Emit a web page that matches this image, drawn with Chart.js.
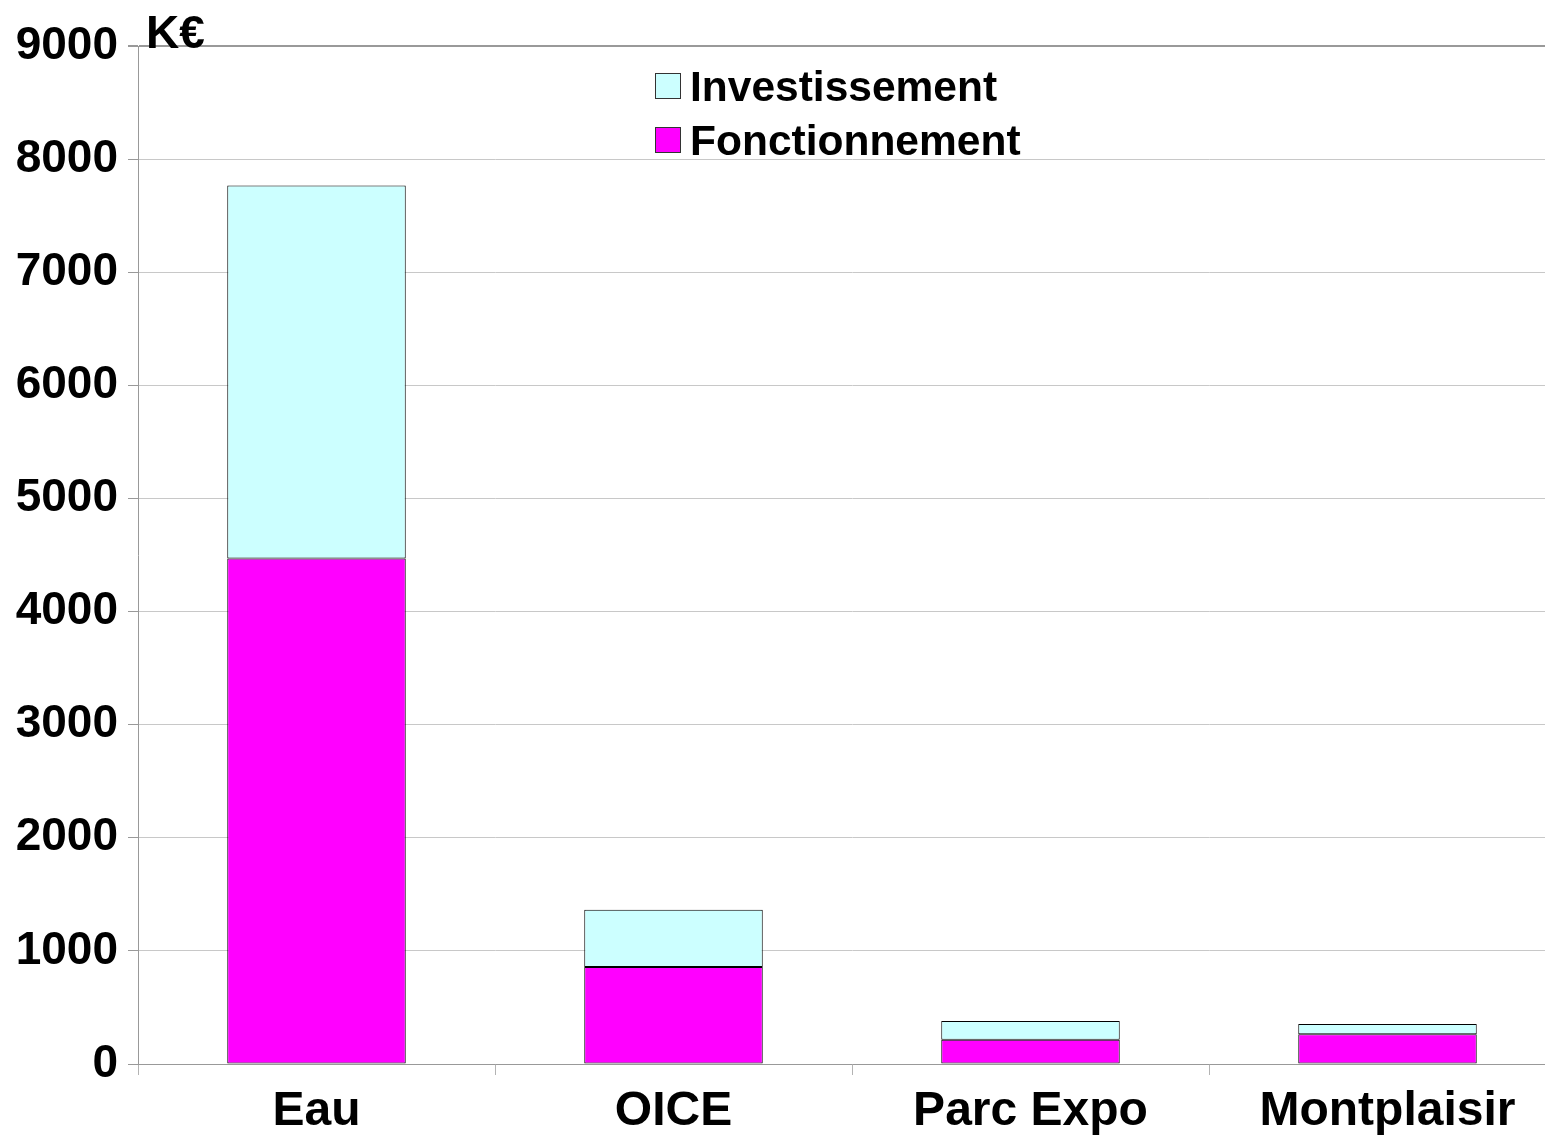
<!DOCTYPE html>
<html>
<head>
<meta charset="utf-8">
<script src="https://cdn.jsdelivr.net/npm/chart.js@4/dist/chart.umd.min.js"></script>
<style>
  html, body { margin: 0; padding: 0; background: #fff; overflow: hidden; }
  #clip { width: 1545px; height: 1136px; overflow: hidden; }
  #wrap { width: 1566px; height: 1136px; }
</style>
</head>
<body>
<div id="clip"><div id="wrap"><canvas id="chart"></canvas></div></div>
<script>
/* Données (K€) */
const categories = ['Eau', 'OICE', 'Parc Expo', 'Montplaisir'];
const fonctionnement = [4470, 858, 215, 263];
const investissement = [3297, 506, 165, 91];
const yTicks = [0, 1000, 2000, 3000, 4000, 5000, 6000, 7000, 8000, 9000];

const FONT = 'Liberation Sans, Arial, sans-serif';

// légende + unité dessinées à la main
const overlay = {
    id: 'overlay',
    afterDraw(chart) {
        const ctx = chart.ctx;
        ctx.save();
        ctx.fillStyle = '#000';
        ctx.font = 'bold 46px ' + FONT;
        ctx.textBaseline = 'alphabetic';
        ctx.textAlign = 'left';
        ctx.fillText('K€', 146, 48);

        const items = [chart.data.datasets[1], chart.data.datasets[0]];
        ctx.font = 'bold 42.5px ' + FONT;
        ctx.textBaseline = 'middle';
        items.forEach((ds, i) => {
            const y = 86 + i * 54;
            ctx.fillStyle = ds.backgroundColor;
            ctx.fillRect(655, y - 13, 25, 25);
            ctx.strokeStyle = '#333';
            ctx.lineWidth = 1;
            ctx.strokeRect(655.5, y - 12.5, 25, 25);
            ctx.fillStyle = '#000';
            ctx.fillText(ds.label, 690, y + 3);
        });
        ctx.restore();
    }
};

new Chart(document.getElementById('chart'), {
    type: 'bar',
    data: {
        labels: categories,
        datasets: [
            {
                label: 'Fonctionnement',
                data: fonctionnement,
                backgroundColor: '#ff00ff',
                borderColor: '#000',
                borderWidth: 1,
                borderSkipped: false
            },
            {
                label: 'Investissement',
                data: investissement,
                backgroundColor: '#ccffff',
                borderColor: '#000',
                borderWidth: 1,
                borderSkipped: false
            }
        ]
    },
    options: {
        responsive: true,
        maintainAspectRatio: false,
        animation: false,
        layout: { padding: { top: 46, right: 0, left: 0, bottom: 0 } },
        datasets: { bar: { categoryPercentage: 1, barPercentage: 0.5 } },
        plugins: {
            legend: { display: false },
            tooltip: { enabled: false }
        },
        scales: {
            x: {
                stacked: true,
                grid: {
                    offset: true,
                    drawOnChartArea: false,
                    drawTicks: true,
                    tickLength: 11,
                    color: '#b3b3b3'
                },
                border: { color: '#999', width: 1 },
                ticks: {
                    color: '#000',
                    font: { family: FONT, size: 48, weight: 'bold' },
                    padding: 8
                },
                afterFit(scale) { scale.height = 72; }
            },
            y: {
                stacked: true,
                min: 0,
                max: 9000,
                afterBuildTicks(scale) {
                    scale.ticks = yTicks.map(v => ({ value: v }));
                },
                grid: {
                    color: ctx => (ctx.tick && ctx.tick.value === 9000) ? '#999' : '#c8c8c8',
                    lineWidth: ctx => (ctx.tick && ctx.tick.value === 9000) ? 2 : 1,
                    tickLength: 10,
                    tickColor: '#999'
                },
                border: { color: '#999', width: 1 },
                ticks: {
                    color: '#000',
                    font: { family: FONT, size: 46, weight: 'bold' },
                    padding: 10,
                    callback: v => String(v)
                },
                afterFit(scale) { scale.width = 138; }
            }
        }
    },
    plugins: [overlay]
});
</script>
</body>
</html>
